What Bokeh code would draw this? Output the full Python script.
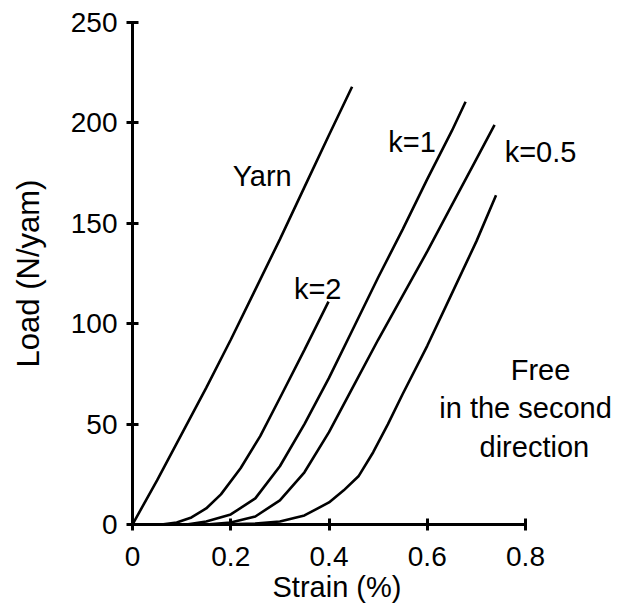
from bokeh.plotting import figure
from bokeh.models import Range1d, FixedTicker, Label, Title
from bokeh.embed import file_html
from bokeh.resources import INLINE

# ---- data ----
yarn_x = [0, 0.05, 0.1, 0.15, 0.2, 0.25, 0.3, 0.35, 0.4, 0.447]
yarn_y = [0, 22, 45, 68, 92, 117, 142, 168, 194, 218]

k2_x = [0.059, 0.09, 0.12, 0.15, 0.18, 0.22, 0.26, 0.30, 0.35, 0.399]
k2_y = [0, 1, 3.5, 8, 15, 28, 44, 63, 87, 111]

k1_x = [0.11, 0.15, 0.2, 0.25, 0.3, 0.35, 0.4, 0.45, 0.5, 0.55, 0.6, 0.65, 0.678]
k1_y = [0, 1.5, 5, 13, 29, 50, 73, 98, 123, 147, 172, 196, 210.5]

k05_x = [0.15, 0.2, 0.25, 0.3, 0.35, 0.4, 0.45, 0.5, 0.55, 0.6, 0.65, 0.7, 0.737]
k05_y = [0, 1, 4, 12, 26, 46, 69, 92, 114, 136, 159, 182, 199]

free_x = [0.18, 0.25, 0.3, 0.35, 0.4, 0.43, 0.46, 0.49, 0.52, 0.55, 0.6, 0.65, 0.7, 0.74]
free_y = [0, 0.5, 1.5, 4.5, 11, 17, 24, 36, 50, 65, 89, 115, 141, 164]

x_ticks = [0, 0.2, 0.4, 0.6, 0.8]
x_tick_labels = ["0", "0.2", "0.4", "0.6", "0.8"]
y_ticks = [0, 50, 100, 150, 200, 250]
y_tick_labels = ["0", "50", "100", "150", "200", "250"]

label_texts = ["Yarn", "k=2", "k=1", "k=0.5", "Free", "in the second", "direction"]
label_x = [0.264, 0.377, 0.569, 0.8306, 0.8306, 0.80, 0.818]
label_y = [173.8, 117.4, 190.4, 185.4, 76.7, 57.8, 38.5]

FONT = "Liberation Sans"
FS = "29px"

p = figure(width=621, height=609, output_backend="svg", toolbar_location=None,
           x_range=Range1d(0, 0.9852), y_range=Range1d(0, 250),
           min_border_left=132, min_border_right=5, min_border_top=22, min_border_bottom=85,
           background_fill_color="white", border_fill_color="white")
p.outline_line_color = None
p.xgrid.visible = False
p.ygrid.visible = False

for ax in (p.xaxis[0], p.yaxis[0]):
    ax.axis_line_width = 3
    ax.axis_line_color = "black"
    ax.major_tick_line_width = 3
    ax.major_tick_line_color = "black"
    ax.major_tick_in = 6
    ax.major_tick_out = 6
    ax.minor_tick_line_color = None
    ax.major_label_text_font = FONT
    ax.major_label_text_font_size = "28px"
    ax.major_label_text_color = "black"
    ax.axis_label_text_font = FONT
    ax.axis_label_text_font_size = FS
    ax.axis_label_text_font_style = "normal"
    ax.axis_label_text_color = "black"

p.xaxis[0].ticker = FixedTicker(ticks=x_ticks)
p.xaxis[0].bounds = (0, 0.8)
p.xaxis[0].major_label_overrides = {t: l for t, l in zip(x_ticks, x_tick_labels)}
p.yaxis[0].ticker = FixedTicker(ticks=y_ticks)
p.yaxis[0].major_label_overrides = {t: l for t, l in zip(y_ticks, y_tick_labels)}
p.yaxis[0].axis_label = "Load (N/yam)"
p.yaxis[0].axis_label_text_font_size = "31px"
p.xaxis[0].major_label_standoff = 16
p.yaxis[0].major_label_standoff = 9
p.yaxis[0].axis_label_standoff = 22

xt = Title(text="Strain (%)", align="left", offset=140, standoff=0,
           text_font=FONT, text_font_size=FS, text_font_style="normal", text_color="black")
p.add_layout(xt, "below")

for xs, ys in [(yarn_x, yarn_y), (k2_x, k2_y), (k1_x, k1_y), (k05_x, k05_y), (free_x, free_y)]:
    p.line(xs, ys, line_color="black", line_width=2.6)

for t, lx, ly in zip(label_texts, label_x, label_y):
    p.add_layout(Label(x=lx, y=ly, text=t, text_font=FONT, text_font_size=FS,
                       text_align="center", text_baseline="alphabetic", text_color="black"))

open("out.html", "w").write(file_html(p, INLINE))
